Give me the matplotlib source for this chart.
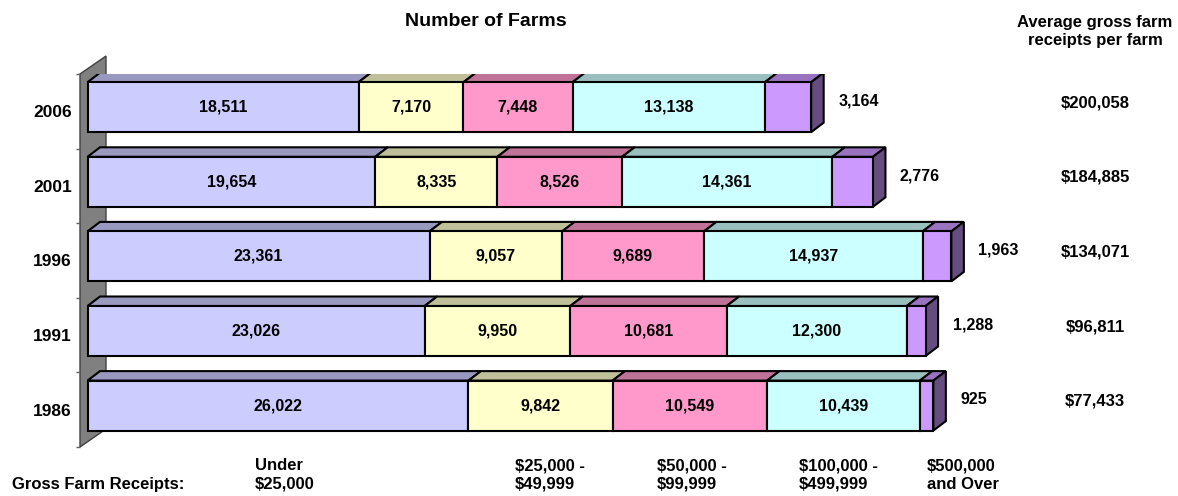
import matplotlib
matplotlib.use("Agg")
import matplotlib.pyplot as plt
import matplotlib.colors as mcolors
import numpy as np

plt.rcParams['font.family'] = ['Liberation Sans', 'DejaVu Sans']
plt.rcParams['font.weight'] = 'bold'

years = ['1986', '1991', '1996', '2001', '2006']
under_25k = [26022, 23026, 23361, 19654, 18511]
k25_50 = [9842, 9950, 9057, 8335, 7170]
k50_100 = [10549, 10681, 9689, 8526, 7448]
k100_500 = [10439, 12300, 14937, 14361, 13138]
k500_over = [925, 1288, 1963, 2776, 3164]
avg_receipts = ['$77,433', '$96,811', '$134,071', '$184,885', '$200,058']

class_labels = ['Under\n$25,000', '$25,000 -\n$49,999', '$50,000 -\n$99,999',
                '$100,000 -\n$499,999', '$500,000\nand Over']
colors = ['#CCCCFF', '#FFFFCC', '#FF99CC', '#CCFFFF', '#CC99FF']

W, H = 1178, 496
fig = plt.figure(figsize=(W / 100, H / 100), dpi=100)

# pixel helpers for layout
px_per_unit = 0.01464      # horizontal pixels per farm
x0_px = 87.5               # front face start of bars
ax = fig.add_axes([80 / W, (H - 447) / H, (W - 80) / W, 373 / H])
ax.set_xlim(-7.5 / px_per_unit, (W - x0_px) / px_per_unit)
ax.set_ylim(-0.5, 4.5)


def shade(c, f):
    r, g, b = mcolors.to_rgb(c)
    return (r * f, g * f, b * f)


# back wall
wdx = 26 / px_per_unit
wdy = 18 / 74.6
xw = -7.5 / px_per_unit
wall = plt.Polygon([(xw, -0.5), (xw, 4.5), (xw + wdx, 4.5 + wdy), (xw + wdx, -0.5 + wdy)],
                   closed=True, facecolor='#808080', edgecolor='#404040', lw=1,
                   clip_on=False, zorder=1)
ax.add_patch(wall)

series = [under_25k, k25_50, k50_100, k100_500, k500_over]
ypos = np.arange(len(years))
bh = 0.67
yc = ypos + 0.055
dx = 12.5 / px_per_unit
dy = 9.5 / 74.6
lw = 1.5

left = np.zeros(len(years))
for k, vals in enumerate(series):
    vals = np.array(vals, dtype=float)
    ax.barh(yc, vals, left=left, height=bh, color=colors[k], edgecolor='black',
            linewidth=lw, zorder=3)
    for i in range(len(years)):
        l, r = left[i], left[i] + vals[i]
        y1 = yc[i] + bh / 2
        ax.fill([l, l + dx, r + dx, r], [y1, y1 + dy, y1 + dy, y1],
                facecolor=shade(colors[k], 0.75), edgecolor='black', lw=lw, zorder=2)
        if k < len(series) - 1:
            ax.text((l + r) / 2, yc[i], f'{int(vals[i]):,}', ha='center', va='center',
                    fontsize=11.5, fontweight='bold', zorder=5)
    left = left + vals

# right side of the last segment and totals label
for i in range(len(years)):
    r = left[i]
    y0 = yc[i] - bh / 2
    y1 = yc[i] + bh / 2
    ax.fill([r, r + dx, r + dx, r], [y0, y0 + dy, y1 + dy, y1],
            facecolor=shade(colors[-1], 0.5), edgecolor='black', lw=lw, zorder=2)
    ax.text(r + 27 / px_per_unit, yc[i] + 0.08, f'{k500_over[i]:,}', ha='left',
            va='center', fontsize=11.5, fontweight='bold')
    ax.text((1095 - x0_px) / px_per_unit, yc[i] + 0.06, avg_receipts[i], ha='center',
            va='center', fontsize=12, fontweight='bold')

ax.set_yticks(ypos)
ax.set_yticklabels(years, fontsize=12.5, fontweight='bold')
ax.set_yticks(np.arange(-0.5, 5, 1), minor=True)
ax.tick_params(axis='y', which='major', length=0, pad=6)
ax.tick_params(axis='y', which='minor', length=3, width=1, color='#606060', direction='out')
ax.set_xticks([])
for s in ax.spines.values():
    s.set_visible(False)
ax.patch.set_alpha(0)

fig.text(486 / W, 1 - 22 / H, 'Number of Farms', ha='center', va='center',
         fontsize=14, fontweight='bold')
fig.text(1095 / W, 1 - 32 / H, 'Average gross farm\nreceipts per farm', ha='center',
         va='center', fontsize=12, fontweight='bold', linespacing=1.25)
fig.text(12 / W, 1 - 484 / H, 'Gross Farm Receipts:', ha='left', va='center',
         fontsize=12, fontweight='bold')
for lab, xp in zip(class_labels, [255, 515, 657, 799, 927]):
    fig.text(xp / W, 1 - 475 / H, lab, ha='left', va='center', fontsize=12,
             fontweight='bold', linespacing=1.3)

fig.savefig('out.png', dpi=100)
